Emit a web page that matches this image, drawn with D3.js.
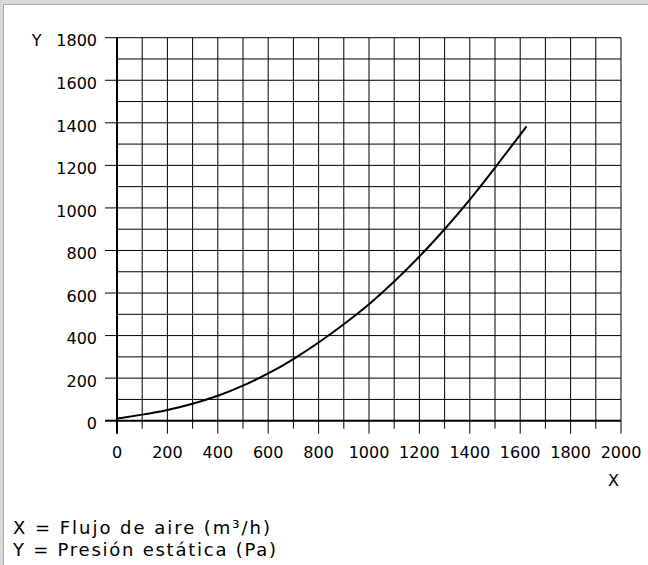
<!DOCTYPE html>
<html><head><meta charset="utf-8">
<script src="https://cdn.jsdelivr.net/npm/d3@7"></script>
<style>html,body{margin:0;padding:0;background:#fff;}svg{display:block;}</style>
</head><body>
<svg id="c" width="648" height="565"></svg>
<script>
const flowX = [0,100,200,300,400,500,600,700,800,900,1000,1100,1200,1300,1400,1500,1625];
const pressureY = [10,28,49,79,115,164,220,288,366,452,545,652,770,898,1037,1188,1383];
const xTickLabels = [0,200,400,600,800,1000,1200,1400,1600,1800,2000];
const yTickLabels = [0,200,400,600,800,1000,1200,1400,1600,1800];
const legendLines = ["X = Flujo de aire (m³/h)", "Y = Presión estática (Pa)"];

const svg = d3.select("#c");
const font = "'DejaVu Sans', Verdana, sans-serif";
// frame
svg.append("rect").attr("x",0).attr("y",0).attr("width",648).attr("height",4.5).attr("fill","#d9d9d9");
svg.append("rect").attr("x",0).attr("y",0).attr("width",3.5).attr("height",565).attr("fill","#d9d9d9");
svg.append("line").attr("x1",3.5).attr("x2",648).attr("y1",4.5).attr("y2",4.5).attr("stroke","#a8a8a8").attr("stroke-width",1);
svg.append("line").attr("x1",3.5).attr("x2",3.5).attr("y1",4.5).attr("y2",565).attr("stroke","#a8a8a8").attr("stroke-width",1);

const x = d3.scaleLinear().domain([0,2000]).range([117,621]);
const y = d3.scaleLinear().domain([0,1800]).range([420.7,37.7]);

const g = svg.append("g");
// grid
d3.range(0,2001,100).forEach(v=>{
  g.append("line").attr("x1",x(v)).attr("x2",x(v)).attr("y1",y(1800)).attr("y2",y(0))
   .attr("stroke","#000").attr("stroke-width", v===0?2:1);
  g.append("line").attr("x1",x(v)).attr("x2",x(v)).attr("y1",y(0)).attr("y2",y(0)+(v%200===0?13:8))
   .attr("stroke","#000").attr("stroke-width", v===0?2:1);
});
d3.range(0,1801,100).forEach(v=>{
  g.append("line").attr("x1",x(0)).attr("x2",x(2000)).attr("y1",y(v)).attr("y2",y(v))
   .attr("stroke","#000").attr("stroke-width", v===0?2:1);
});
yTickLabels.forEach(v=>{
  g.append("line").attr("x1",x(0)-12).attr("x2",x(0)).attr("y1",y(v)).attr("y2",y(v))
   .attr("stroke","#000").attr("stroke-width", v===0?2:1);
  g.append("text").attr("x",97).attr("y",y(v)+3).attr("dy","0.36em").attr("text-anchor","end")
   .attr("font-family",font).attr("font-size",16).attr("fill","#000").text(v);
});
xTickLabels.forEach(v=>{
  g.append("text").attr("x",x(v)).attr("y",458).attr("text-anchor","middle")
   .attr("font-family",font).attr("font-size",16).attr("fill","#000").text(v);
});
svg.append("text").attr("x",36.7).attr("y",y(1800)+3).attr("dy","0.36em").attr("text-anchor","middle")
  .attr("font-family",font).attr("font-size",16).text("Y");
svg.append("text").attr("x",613.5).attr("y",486).attr("text-anchor","middle")
  .attr("font-family",font).attr("font-size",16).text("X");

// curve
const pts = flowX.map((d,i)=>[d,pressureY[i]]);
svg.append("path").datum(pts)
  .attr("d", d3.line().x(d=>x(d[0])).y(d=>y(d[1])).curve(d3.curveBasis))
  .attr("fill","none").attr("stroke","#000").attr("stroke-width",2);

const legendWidths = [257, 263];
legendLines.forEach((t,i)=>{
  svg.append("text").attr("x",13).attr("y",534+i*21.5)
    .attr("font-family",font).attr("font-size",18).attr("fill","#000")
    .attr("textLength",legendWidths[i]).attr("lengthAdjust","spacing").text(t);
});
</script>
</body></html>
